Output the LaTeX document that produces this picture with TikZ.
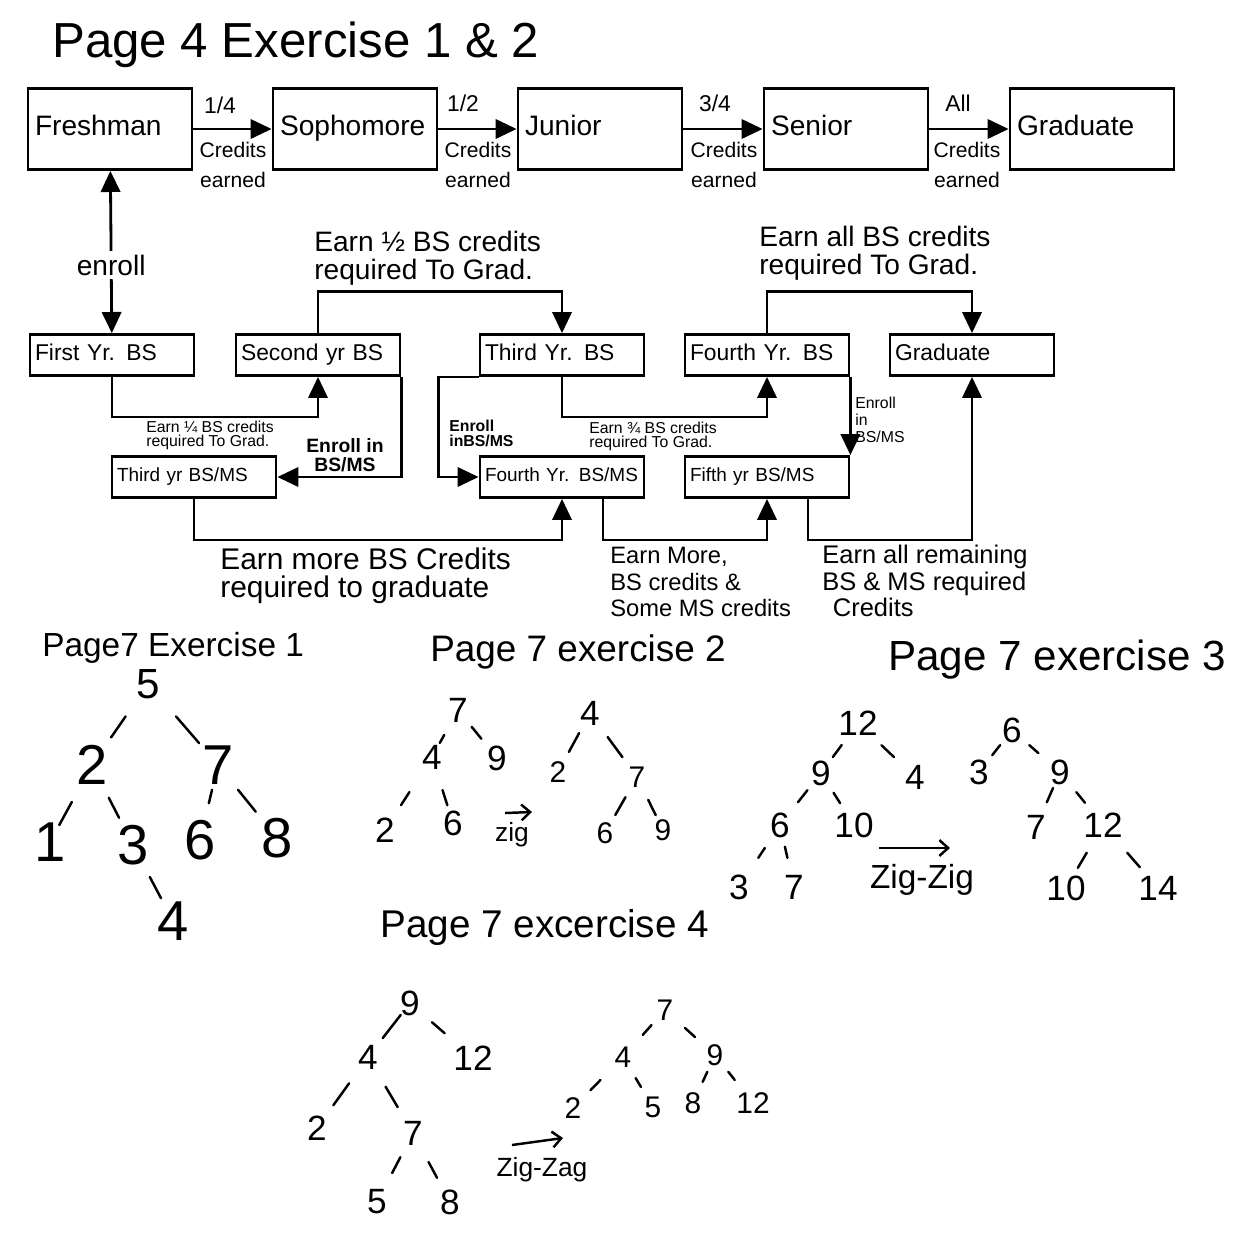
\documentclass[tikz,border=0pt]{standalone}
\usepackage{fontspec}
\setmainfont{Liberation Sans}
\usetikzlibrary{arrows.meta,positioning,calc}

\begin{document}
\begin{tikzpicture}[x=0.02cm, y=-0.02cm,
    stage/.style={draw, line width=1.6pt, minimum height=1.62cm, text width=3.0cm, inner xsep=0.14cm, align=left, execute at begin node=\strut, font=\fontsize{16}{18}\selectfont},
    yearbox/.style={draw, line width=1.6pt, minimum height=0.82cm, text width=3.08cm, inner xsep=0.1cm, align=left, execute at begin node=\strut, font=\fontsize{13}{15}\selectfont},
    msbox/.style={yearbox, font=\fontsize{10.8}{13}\selectfont},
    flow/.style={line width=1.6pt, -{Triangle[length=12pt,width=11pt]}},
    heading/.style={anchor=west, inner sep=0pt},
    frac/.style={inner sep=0pt, font=\fontsize{13}{13}\selectfont},
    earned/.style={align=center, inner sep=0pt, font=\fontsize{12}{17}\selectfont},
    note/.style={anchor=west, align=left, inner sep=0pt, font=\fontsize{16}{16}\selectfont},
    tinynote/.style={anchor=west, align=left, inner sep=0pt, font=\fontsize{9}{8}\selectfont},
    num/.style={inner sep=1pt, font=\fontsize{20}{20}\selectfont},
    bignum/.style={inner sep=1pt, font=\fontsize{32}{32}\selectfont},
    smallnum/.style={inner sep=1pt, font=\fontsize{17}{17}\selectfont},
    branch/.style={line width=1.4pt, line cap=round},
    rotation/.style={line width=1.4pt, -{Straight Barb[length=5pt,width=9pt]}}
]
\useasboundingbox (0,0) rectangle (1254,1244);

% Page 4
\node[heading, font=\fontsize{28}{28}\selectfont] (p4) at (52,45) {Page 4 Exercise 1 \& 2};

\node[stage] (fresh) at (110,129) {Freshman};
\node[stage] (soph) at (355,129) {Sophomore};
\node[stage] (jun) at (600,129) {Junior};
\node[stage] (sen) at (846,129) {Senior};
\node[stage] (grad) at (1092,129) {Graduate};

\draw[flow] (fresh) -- (soph);
\draw[flow] (soph) -- (jun);
\draw[flow] (jun) -- (sen);
\draw[flow] (sen) -- (grad);

\node[frac] (q1) at (220,105) {1/4};
\node[frac] (q2) at (463,103) {1/2};
\node[frac] (q3) at (715,103) {3/4};
\node[frac] (q4) at (958,103) {All};
\node[earned] (e1) at (233,165) {Credits\\earned};
\node[earned] (e2) at (478,165) {Credits\\earned};
\node[earned] (e3) at (724,165) {Credits\\earned};
\node[earned] (e4) at (967,165) {Credits\\earned};

% BS and BS/MS years
\node[yearbox] (first) at (112,355) {First Yr. BS};
\node[yearbox] (second) at (318,355) {Second yr BS};
\node[yearbox] (thirdbs) at (562,355) {Third Yr. BS};
\node[yearbox] (fourthbs) at (767,355) {Fourth Yr. BS};
\node[yearbox] (grad2) at (972,355) {Graduate};
\node[msbox] (thirdms) at (194,477) {Third yr BS/MS};
\node[msbox] (fourthms) at (562,477) {Fourth Yr. BS/MS};
\node[msbox] (fifthms) at (767,477) {Fifth yr BS/MS};

\draw[line width=1.6pt, {Triangle[length=12pt,width=11pt]}-{Triangle[length=12pt,width=11pt]}]
    (first) -- node[pos=0.42, fill=white, inner sep=2pt, font=\fontsize{16}{16}\selectfont] (enr) {enroll} (fresh);

\draw[flow] (first.south) -- ++(0,40) -| (second.south);
\draw[flow] (second.north) -- ++(0,-42) -| (thirdbs.north);
\draw[flow] (second.south east) |- (thirdms.east);
\draw[flow] (thirdms.south) -- ++(0,41) -| (fourthms.south);
\draw[flow] (thirdbs.south west) -- ++(-40,0) |- (fourthms.west);
\draw[flow] (thirdbs.south) -- ++(0,40) -| (fourthbs.south);
\draw[flow] (fourthbs.north) -- ++(0,-42) -| (grad2.north);
\draw[flow] (fourthbs.south east) -- (fifthms.north east);
\draw[flow] ($(fourthms.south)+(41,0)$) -- ++(0,41) -| (fifthms.south);
\draw[flow] ($(fifthms.south)+(41,0)$) -- ++(0,41) -| (grad2.south);

\node[note] (n2) at (314,258) {Earn ½ BS credits\\required To Grad.};
\node[note] (n4) at (759,253) {Earn all BS credits\\required To Grad.};
\node[tinynote] (n1) at (146,435) {Earn ¼ BS credits\\required To Grad.};
\node[tinynote] (n3) at (589,436) {Earn ¾ BS credits\\required To Grad.};
\node[align=center, inner sep=0pt, font=\bfseries\fontsize{11}{11}\selectfont] (en1) at (345,455) {Enroll in\\BS/MS};
\node[tinynote, font=\bfseries\fontsize{9}{8.5}\selectfont] (en2) at (449,433) {Enroll\\inBS/MS};
\node[tinynote, font=\fontsize{9}{9.6}\selectfont] (en3) at (855,420) {Enroll\\in\\BS/MS};
\node[note, font=\fontsize{17}{16}\selectfont] (n5) at (220,576) {Earn more BS Credits\\required to graduate};
\node[note, font=\fontsize{13.5}{15}\selectfont] (n6) at (610,582) {Earn More,\\BS credits \&\\Some MS credits};
\node[note, font=\fontsize{14.5}{15}\selectfont] (n7) at (822,581) {Earn all remaining\\BS \& MS required\\\hspace{6pt}Credits};

% Page 7 exercise 1
\node[heading, font=\fontsize{19}{19}\selectfont] (p71) at (42,648) {Page7 Exercise 1};
\node[bignum, font=\fontsize{24}{24}\selectfont] (a5) at (148,684) {5};
\node[bignum] (a2) at (92,765) {2};
\node[bignum] (a7) at (218,765) {7};
\node[bignum] (a1) at (50,842) {1};
\node[bignum] (a3) at (133,845) {3};
\node[bignum] (a6) at (200,840) {6};
\node[bignum] (a8) at (277,838) {8};
\node[bignum] (a4) at (173,921) {4};
\draw[branch] ($(a5)!0.40!(a2)$) -- ($(a5)!0.66!(a2)$)
    ($(a5)!0.40!(a7)$) -- ($(a5)!0.73!(a7)$)
    ($(a2)!0.48!(a1)$) -- ($(a2)!0.78!(a1)$)
    ($(a2)!0.41!(a3)$) -- ($(a2)!0.66!(a3)$)
    ($(a7)!0.33!(a6)$) -- ($(a7)!0.51!(a6)$)
    ($(a7)!0.34!(a8)$) -- ($(a7)!0.64!(a8)$)
    ($(a3)!0.42!(a4)$) -- ($(a3)!0.70!(a4)$);

% Page 7 exercise 2
\node[heading, font=\fontsize{21}{21}\selectfont] (p72) at (430,652) {Page 7 exercise 2};
\node[num] (b7) at (458,710) {7};
\node[num] (b4) at (432,757) {4};
\node[num] (b9) at (497,758) {9};
\node[num] (b2) at (385,830) {2};
\node[num] (b6) at (453,823) {6};
\draw[branch] ($(b7)!0.53!(b4)$) -- ($(b7)!0.70!(b4)$)
    ($(b7)!0.35!(b9)$) -- ($(b7)!0.60!(b9)$)
    ($(b4)!0.48!(b2)$) -- ($(b4)!0.66!(b2)$)
    ($(b4)!0.50!(b6)$) -- ($(b4)!0.73!(b6)$);
\coordinate (zs) at (505,813);
\coordinate (ze) at (532,812);
\draw[rotation] (zs) -- (ze);
\node[inner sep=0pt, font=\fontsize{15}{15}\selectfont] (zig) at (512,835) {zig};
\node[smallnum, font=\fontsize{20}{20}\selectfont] (c4) at (590,713) {4};
\node[smallnum] (c2) at (558,772) {2};
\node[smallnum] (c7) at (637,777) {7};
\node[smallnum] (c6) at (605,833) {6};
\node[smallnum] (c9) at (663,830) {9};
\draw[branch] ($(c4)!0.34!(c2)$) -- ($(c4)!0.66!(c2)$)
    ($(c4)!0.375!(c7)$) -- ($(c4)!0.69!(c7)$)
    ($(c7)!0.36!(c6)$) -- ($(c7)!0.68!(c6)$)
    ($(c7)!0.43!(c9)$) -- ($(c7)!0.72!(c9)$);

% Page 7 exercise 3
\node[heading, font=\fontsize{24}{24}\selectfont] (p73) at (888,660) {Page 7 exercise 3};
\node[num] (d12) at (858,723) {12};
\node[num] (d9) at (821,773) {9};
\node[num] (d4) at (915,777) {4};
\node[num] (d6) at (780,825) {6};
\node[num] (d10) at (854,825) {10};
\node[num] (d3) at (739,887) {3};
\node[num] (d7) at (794,887) {7};
\draw[branch] ($(d12)!0.44!(d9)$) -- ($(d12)!0.68!(d9)$)
    ($(d12)!0.41!(d4)$) -- ($(d12)!0.63!(d4)$)
    ($(d9)!0.33!(d6)$) -- ($(d9)!0.56!(d6)$)
    ($(d9)!0.38!(d10)$) -- ($(d9)!0.58!(d10)$)
    ($(d6)!0.37!(d3)$) -- ($(d6)!0.53!(d3)$)
    ($(d6)!0.35!(d7)$) -- ($(d6)!0.53!(d7)$);
\coordinate (zzs) at (879,848);
\coordinate (zze) at (950,848);
\draw[rotation] (zzs) -- (zze);
\node[inner sep=0pt, font=\fontsize{19}{19}\selectfont] (zigzig) at (922,880) {Zig-Zig};
\node[num] (f6) at (1012,730) {6};
\node[num] (f3) at (979,772) {3};
\node[num] (f9) at (1060,772) {9};
\node[num] (f7) at (1036,827) {7};
\node[num] (f12) at (1103,825) {12};
\node[num] (f10) at (1066,888) {10};
\node[num] (f14) at (1158,888) {14};
\draw[branch] ($(f6)!0.36!(f3)$) -- ($(f6)!0.60!(f3)$)
    ($(f6)!0.36!(f9)$) -- ($(f6)!0.55!(f9)$)
    ($(f9)!0.29!(f7)$) -- ($(f9)!0.55!(f7)$)
    ($(f9)!0.38!(f12)$) -- ($(f9)!0.58!(f12)$)
    ($(f12)!0.44!(f10)$) -- ($(f12)!0.68!(f10)$)
    ($(f12)!0.44!(f14)$) -- ($(f12)!0.67!(f14)$);

% Page 7 exercise 4
\node[heading, font=\fontsize{22}{22}\selectfont] (p74) at (380,927) {Page 7 excercise 4};
\node[num] (g9) at (410,1003) {9};
\node[num] (g4) at (368,1057) {4};
\node[num] (g12) at (473,1058) {12};
\node[num] (g2) at (317,1128) {2};
\node[num] (g7) at (413,1133) {7};
\node[num] (g5) at (377,1202) {5};
\node[num] (g8) at (450,1202) {8};
\draw[branch] ($(g9)!0.22!(g4)$) -- ($(g9)!0.65!(g4)$)
    ($(g9)!0.35!(g12)$) -- ($(g9)!0.55!(g12)$)
    ($(g4)!0.37!(g2)$) -- ($(g4)!0.68!(g2)$)
    ($(g4)!0.39!(g7)$) -- ($(g4)!0.66!(g7)$)
    ($(g7)!0.35!(g5)$) -- ($(g7)!0.58!(g5)$)
    ($(g7)!0.42!(g8)$) -- ($(g7)!0.65!(g8)$);
\coordinate (zas) at (512,1145);
\coordinate (zae) at (563,1138);
\draw[rotation] (zas) -- (zae);
\node[inner sep=0pt, font=\fontsize{15}{15}\selectfont] (zigzag) at (542,1170) {Zig-Zag};
\node[smallnum] (h7) at (665,1010) {7};
\node[smallnum] (h4) at (623,1057) {4};
\node[smallnum] (h9) at (715,1055) {9};
\node[smallnum] (h2) at (573,1108) {2};
\node[smallnum] (h5) at (653,1107) {5};
\node[smallnum] (h8) at (693,1103) {8};
\node[smallnum] (h12) at (753,1103) {12};
\draw[branch] ($(h7)!0.32!(h4)$) -- ($(h7)!0.53!(h4)$)
    ($(h7)!0.40!(h9)$) -- ($(h7)!0.60!(h9)$)
    ($(h4)!0.45!(h2)$) -- ($(h4)!0.65!(h2)$)
    ($(h4)!0.42!(h5)$) -- ($(h4)!0.60!(h5)$)
    ($(h9)!0.35!(h8)$) -- ($(h9)!0.56!(h8)$)
    ($(h9)!0.35!(h12)$) -- ($(h9)!0.52!(h12)$);
\end{tikzpicture}
\end{document}
